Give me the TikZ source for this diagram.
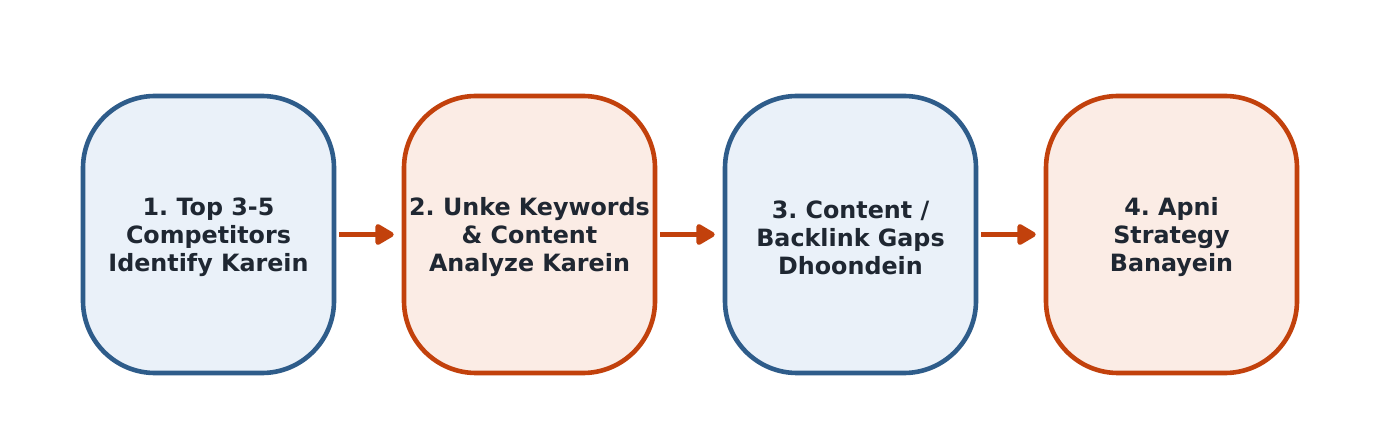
\documentclass[tikz,border=0pt]{standalone}
\usepackage{fontspec}
\setmainfont{DejaVu Sans}
\frenchspacing
\usetikzlibrary{arrows.meta}
\definecolor{bstroke}{HTML}{2E5C8A}
\definecolor{bfill}{HTML}{EAF1F9}
\definecolor{ostroke}{HTML}{C2410C}
\definecolor{ofill}{HTML}{FBECE5}
\definecolor{txt}{HTML}{1F2732}
\begin{document}
\begin{tikzpicture}[x=1pt,y=1pt,
  stepbox/.style={draw, line width=4.6pt, rounded corners=72pt,
    minimum width=251pt, minimum height=277pt, inner sep=0pt},
  steptext/.style={text=txt, align=center, inner sep=0pt, yshift=-3pt,
    font=\fontsize{23.8}{28}\selectfont\bfseries},
  bluebox/.style={stepbox, draw=bstroke, fill=bfill},
  orangebox/.style={stepbox, draw=ostroke, fill=ofill},
  flow/.style={draw=ostroke, line width=5pt,
    -{Triangle[length=21pt,width=23pt,round]},
    shorten <=3pt, shorten >=8pt}
]
\useasboundingbox (0,0) rectangle (1379,442);
\node[bluebox, label={[steptext]center:{1. Top 3-5\\Competitors\\Identify Karein}}] (s1) at (208.5,207.5) {};
\node[orangebox, label={[steptext]center:{2. Unke Keywords\\\& Content\\Analyze Karein}}] (s2) at (529.5,207.5) {};
\node[bluebox, label={[steptext]center:{3. Content /\\Backlink Gaps\\Dhoondein}}] (s3) at (850.5,207.5) {};
\node[orangebox, label={[steptext]center:{4. Apni\\Strategy\\Banayein}}] (s4) at (1171.5,207.5) {};
\draw[flow] (s1.east) -- (s2.west);
\draw[flow] (s2.east) -- (s3.west);
\draw[flow] (s3.east) -- (s4.west);
\end{tikzpicture}
\end{document}
